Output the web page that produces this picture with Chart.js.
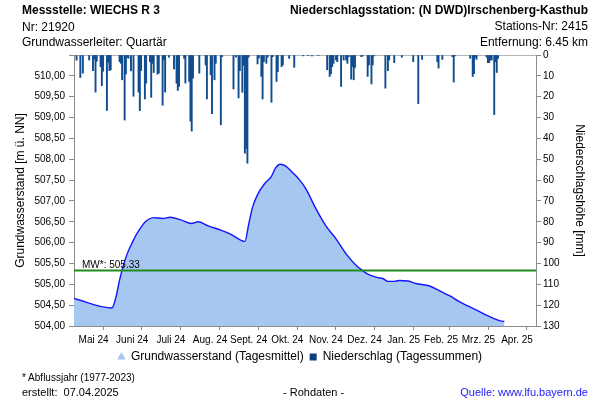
<!DOCTYPE html>
<html lang="de">
<head>
<meta charset="utf-8">
<title>Messstelle WIECHS R 3</title>
<script src="https://cdn.jsdelivr.net/npm/chart.js@4/dist/chart.umd.min.js"></script>
<style>
  body { margin: 0; background: #fff; }
  #wrap { position: relative; width: 600px; height: 400px; font-family: "Liberation Sans", Arial, sans-serif; color: #000; }
  #wrap canvas { position: absolute; left: 0; top: 0; }
  .txt { position: absolute; white-space: nowrap; line-height: 14px; font-size: 12px; }
  .b { font-weight: bold; }
  .r { right: 12px; text-align: right; }
  .small { font-size: 11px; line-height: 13px; }
</style>
</head>
<body>
<div id="wrap">
  <canvas id="chart" width="600" height="400"></canvas>
  <div class="txt b" style="left:22px; top:3px;">Messstelle: WIECHS R 3</div>
  <div class="txt" style="left:22px; top:20px;">Nr: 21920</div>
  <div class="txt" style="left:22px; top:35px;">Grundwasserleiter: Quartär</div>
  <div class="txt b r" style="top:3px;">Niederschlagsstation: (N DWD)Irschenberg-Kasthub</div>
  <div class="txt r" style="top:19px;">Stations-Nr: 2415</div>
  <div class="txt r" style="top:35px;">Entfernung: 6.45 km</div>
  <div class="txt small" style="left:22px; top:371px; font-size:10px;">* Abflussjahr (1977-2023)</div>
  <div class="txt small" style="left:22px; top:386px;">erstellt:&nbsp;&nbsp;07.04.2025</div>
  <div class="txt small" style="left:283px; top:386px;">- Rohdaten -</div>
  <div class="txt small r" style="top:386px; color:#1a1aff;">Quelle: www.lfu.bayern.de</div>
</div>
<script>
// Monatsgrenzen der x-Achse (Tage seit 01.05.2024)
const monthStarts = ['2024-05-01', '2024-06-01', '2024-07-01', '2024-08-01', '2024-09-01', '2024-10-01',
    '2024-11-01', '2024-12-01', '2025-01-01', '2025-02-01', '2025-03-01', '2025-04-01', '2025-05-01'];
const monthLabels = ['Mai 24', 'Juni 24', 'Juli 24', 'Aug. 24', 'Sept. 24', 'Okt. 24',
    'Nov. 24', 'Dez. 24', 'Jan. 25', 'Feb. 25', 'Mrz. 25', 'Apr. 25'];

// Grundwasserstand (Tagesmittel), Tag seit 01.05.2024 -> m ü. NN
const gwDay = [0, 30, 33, 36, 39, 42, 46, 51, 57, 63, 70, 76, 84, 93, 98, 106, 116, 124, 135, 138,
    141, 145, 151, 156, 159, 163, 167, 173, 178, 183, 191, 199, 207, 215, 223, 228, 233, 240, 244,
    248, 253, 257, 264, 270, 281, 289, 297, 304, 312, 320, 328, 335, 339, 340];
const gwLevel = [504.66, 504.43, 504.68, 505.10, 505.45, 505.73, 506.00, 506.28, 506.52, 506.60,
    506.58, 506.61, 506.55, 506.46, 506.50, 506.40, 506.30, 506.20, 506.03, 506.44, 506.84, 507.15,
    507.43, 507.59, 507.78, 507.88, 507.84, 507.67, 507.51, 507.30, 506.82, 506.40, 506.09, 505.73,
    505.45, 505.33, 505.23, 505.16, 505.14, 505.07, 505.07, 505.09, 505.08, 505.02, 504.96, 504.84,
    504.72, 504.59, 504.47, 504.35, 504.23, 504.14, 504.11, 504.11];

// Niederschlag (Tagessummen), Tag seit 01.05.2024 -> mm (nur Regentage)
const rainDay = [2, 5, 7, 12, 15, 16, 17, 18, 21, 22, 23, 26, 27, 28, 29, 36, 37, 38, 40, 41, 42, 43,
    45, 47, 51, 52, 53, 56, 57, 60, 61, 62, 63, 66, 67, 70, 71, 72, 75, 79, 81, 82, 83, 87, 88, 91,
    92, 93, 94, 99, 104, 105, 108, 109, 111, 112, 116, 117, 126, 128, 130, 131, 133, 134, 135, 136,
    137, 138, 145, 146, 148, 149, 150, 152, 153, 156, 157, 160, 161, 164, 165, 170, 174, 181, 185,
    188, 193, 200, 202, 203, 204, 205, 207, 208, 211, 213, 215, 216, 217, 219, 220, 221, 222, 227,
    228, 232, 233, 235, 236, 237, 246, 248, 249, 253, 259, 268, 272, 275, 287, 288, 291, 299, 300,
    301, 313, 315, 316, 317, 318, 326, 327, 328, 329, 330, 332, 333, 334, 335];
const rainMm = [2.5, 10.8, 8.7, 2.4, 7.5, 2.0, 17.8, 3.0, 5.6, 14.7, 7.8, 26.6, 3.5, 7.5, 7.1, 3.2,
    4.0, 11.9, 31.2, 9.1, 1.1, 1.6, 7.6, 19.8, 17.8, 26.7, 7.5, 21.1, 13.5, 3.2, 20.3, 4.0, 8.4, 9.2,
    8.7, 24.1, 2.4, 17.8, 1.1, 6.7, 13.5, 17.0, 15.1, 1.6, 13.5, 12.7, 31.7, 36.5, 11.1, 8.7, 4.8,
    21.1, 9.5, 28.1, 11.9, 4.0, 33.5, 0.8, 16.3, 1.1, 20.6, 7.5, 17.9, 5.0, 47.1, 44.9, 51.9, 1.0,
    4.3, 1.5, 10.3, 21.1, 3.2, 4.0, 1.0, 22.7, 0.8, 12.7, 8.0, 5.6, 4.8, 1.6, 5.9, 0.4, 0.3, 0.4,
    0.3, 7.1, 10.3, 9.0, 5.6, 4.0, 2.4, 3.2, 15.1, 2.4, 2.4, 4.0, 0.8, 11.6, 5.6, 11.9, 5.9, 0.8,
    0.5, 10.3, 4.8, 13.9, 4.8, 0.4, 15.9, 7.5, 2.4, 3.7, 1.1, 3.2, 23.3, 2.1, 3.2, 6.3, 2.1, 0.8,
    13.0, 0.5, 1.6, 10.3, 9.0, 1.1, 2.1, 1.1, 3.7, 3.7, 2.4, 2.4, 28.6, 3.2, 8.4, 1.6];

const meanLevel = 505.33;

const DAY = 864e5;
const t0 = Date.parse(monthStarts[0]);
const boundDays = monthStarts.map(d => Math.round((Date.parse(d) - t0) / DAY));
const lastDay = boundDays[boundDays.length - 1];

const axisGrey = '#8c8c8c';
const fontFamily = '"Liberation Sans", Arial, sans-serif';

// Beschriftung der Mittelwertlinie
const mwLabelPlugin = {
    id: 'mwLabel',
    afterDatasetsDraw(chart) {
        const { ctx, chartArea, scales } = chart;
        const y = scales.y.getPixelForValue(meanLevel);
        ctx.save();
        ctx.font = '10px ' + fontFamily;
        ctx.fillStyle = '#000';
        ctx.textBaseline = 'alphabetic';
        ctx.fillText('MW*: ' + meanLevel.toFixed(2), chartArea.left + 8, y - 3);
        ctx.restore();
    }
};

new Chart(document.getElementById('chart'), {
    type: 'line',
    data: {
        datasets: [
            {
                label: 'Niederschlag (Tagessummen)',
                type: 'bar',
                data: rainDay.map((d, i) => ({ x: d, y: rainMm[i] })),
                xAxisID: 'x',
                yAxisID: 'y2',
                backgroundColor: '#104c8e',
                borderWidth: 0,
                barThickness: 1.25,
                order: 1
            },
            {
                label: 'MW',
                data: [{ x: 0, y: meanLevel }, { x: lastDay, y: meanLevel }],
                yAxisID: 'y',
                borderColor: '#1e8c1e',
                borderWidth: 2,
                pointRadius: 0,
                fill: false,
                order: 2
            },
            {
                label: 'Grundwasserstand (Tagesmittel)',
                data: gwDay.map((d, i) => ({ x: d, y: gwLevel[i] })),
                yAxisID: 'y',
                borderColor: '#1414ff',
                borderWidth: 1.4,
                backgroundColor: '#a6c7ef',
                fill: 'start',
                pointRadius: 0,
                cubicInterpolationMode: 'monotone',
                order: 3
            }
        ]
    },
    options: {
        responsive: false,
        animation: false,
        layout: { padding: { top: 55, left: 0, right: 0, bottom: 27 } },
        plugins: {
            tooltip: { enabled: false },
            legend: {
                position: 'bottom',
                labels: {
                    usePointStyle: true,
                    boxWidth: 7,
                    boxHeight: 7,
                    padding: 6,
                    color: '#000',
                    font: { family: fontFamily, size: 12 },
                    generateLabels: () => [
                        { text: 'Grundwasserstand (Tagesmittel)', fillStyle: '#a6c7ef', strokeStyle: '#a6c7ef', lineWidth: 0, pointStyle: 'triangle', datasetIndex: 2 },
                        { text: 'Niederschlag (Tagessummen)', fillStyle: '#0d3f7c', strokeStyle: '#0d3f7c', lineWidth: 0, pointStyle: 'rect', datasetIndex: 0 }
                    ]
                }
            }
        },
        scales: {
            x: {
                type: 'linear',
                position: 'bottom',
                min: 0,
                max: lastDay,
                offset: false,
                afterBuildTicks: (scale) => {
                    const ticks = [];
                    boundDays.forEach((d, i) => {
                        ticks.push({ value: d });
                        if (i < boundDays.length - 1) ticks.push({ value: (d + boundDays[i + 1]) / 2 });
                    });
                    scale.ticks = ticks;
                },
                afterFit: (scale) => { scale.height = 19; },
                ticks: {
                    autoSkip: false,
                    maxRotation: 0,
                    padding: 4,
                    color: '#000',
                    font: { family: fontFamily, size: 10 },
                    callback: (v, i) => (i % 2 ? monthLabels[(i - 1) / 2] : '')
                },
                grid: {
                    drawOnChartArea: false,
                    drawTicks: true,
                    tickLength: 4,
                    tickColor: (ctx) => (ctx.index % 2 ? 'rgba(0,0,0,0)' : axisGrey)
                },
                border: { color: axisGrey }
            },
            xTop: {
                type: 'linear',
                position: 'top',
                min: 0,
                max: lastDay,
                afterFit: (scale) => { scale.height = 0; },
                ticks: { display: false },
                grid: { drawOnChartArea: false, drawTicks: false },
                border: { color: '#b4b4b4' }
            },
            y: {
                type: 'linear',
                position: 'left',
                min: 504,
                max: 510.5,
                afterFit: (scale) => { scale.width = 74; },
                ticks: {
                    stepSize: 0.5,
                    padding: 4,
                    color: '#000',
                    font: { family: fontFamily, size: 10 },
                    callback: (v) => (v > 510.01 ? '' : v.toFixed(2).replace('.', ','))
                },
                grid: { drawOnChartArea: false, tickLength: 5, color: axisGrey },
                border: { color: axisGrey },
                title: {
                    display: true,
                    text: 'Grundwasserstand [m ü. NN]',
                    color: '#000',
                    font: { family: fontFamily, size: 12 },
                    padding: { top: 13, bottom: 0 }
                }
            },
            y2: {
                type: 'linear',
                position: 'right',
                min: 0,
                max: 130,
                reverse: true,
                afterFit: (scale) => { scale.width = 64; },
                ticks: {
                    stepSize: 10,
                    padding: 2,
                    color: '#000',
                    font: { family: fontFamily, size: 10 }
                },
                grid: { drawOnChartArea: false, tickLength: 5, color: axisGrey },
                border: { color: axisGrey },
                title: {
                    display: true,
                    text: 'Niederschlagshöhe [mm]',
                    color: '#000',
                    font: { family: fontFamily, size: 12 },
                    padding: { top: 13, bottom: 0 }
                }
            }
        }
    },
    plugins: [mwLabelPlugin]
});
</script>
</body>
</html>
